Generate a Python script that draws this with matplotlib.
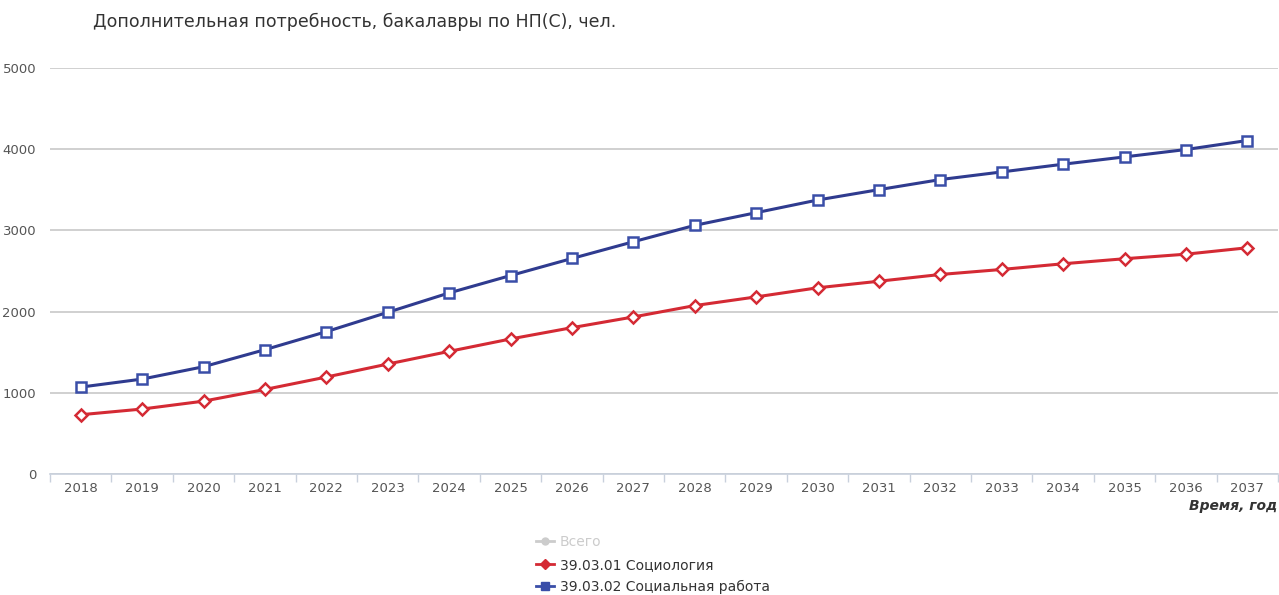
import matplotlib
matplotlib.use("Agg")
import matplotlib.pyplot as plt
from matplotlib.lines import Line2D
import numpy as np

years = [str(y) for y in range(2018, 2038)]
sociology = [730, 800, 897, 1041, 1194, 1354, 1510, 1663, 1802, 1934,
             2074, 2181, 2293, 2374, 2457, 2519, 2589, 2651, 2707, 2786]
social_work = [1070, 1169, 1321, 1531, 1753, 1991, 2230, 2444, 2654, 2860,
               3062, 3218, 3374, 3502, 3626, 3720, 3815, 3905, 3996, 4107]
y_ticks = [0, 1000, 2000, 3000, 4000, 5000]

title = "Дополнительная потребность, бакалавры по НП(С), чел."
x_title = "Время, год"
legend_labels = ["Всего", "39.03.01 Социология", "39.03.02 Социальная работа"]

plt.rcParams['font.family'] = ['DejaVu Sans']

fig = plt.figure(figsize=(12.79, 5.95), dpi=100)
ax = fig.add_axes([50/1279, 1-474/595, 1228/1279, (474-68)/595])

x = np.arange(len(years))
red = '#d42a34'
blue = '#2f3b8f'
blue_m = '#3a4ea8'

ax.plot(x, sociology, color=red, lw=2.2, marker='D', ms=6, mfc='white',
        mec=red, mew=1.8, zorder=3)
ax.plot(x, social_work, color=blue, lw=2.2, marker='s', ms=7.5, mfc='white',
        mec=blue_m, mew=1.8, zorder=3)

ax.set_xlim(-0.5, len(years) - 0.5)
ax.set_ylim(0, 5000)
ax.set_yticks(y_ticks)
ax.set_yticklabels([str(v) for v in y_ticks])
ax.set_xticks(x)
ax.set_xticklabels(years)
ax.set_xticks(np.arange(-0.5, len(years), 1.0), minor=True)
ax.tick_params(axis='x', which='major', length=0, pad=6, labelsize=9.5, labelcolor='#555555')
ax.tick_params(axis='x', which='minor', length=6, color='#c8d0dc', width=1)
ax.tick_params(axis='y', length=0, pad=10, labelsize=9.5, labelcolor='#555555')

ax.grid(axis='y', color='#c4c4c4', lw=1.1)
ax.set_axisbelow(True)
for s in ['top', 'right', 'left']:
    ax.spines[s].set_visible(False)
ax.spines['bottom'].set_color('#c8d0dc')
ax.spines['bottom'].set_linewidth(1.2)

fig.text(93/1279, 1-22/595, title, fontsize=12.5, color='#333333', va='center', ha='left')
fig.text(1277/1279, 1-506/595, x_title, fontsize=10, color='#333333', va='center', ha='right',
         fontweight='bold', fontstyle='italic')

handles = [
    Line2D([], [], color='#cccccc', lw=2, marker='o', ms=5, mfc='#cccccc', mec='#cccccc'),
    Line2D([], [], color=red, lw=2, marker='D', ms=5, mfc=red, mec=red),
    Line2D([], [], color=blue_m, lw=2, marker='s', ms=5.5, mfc=blue_m, mec=blue_m),
]
leg = fig.legend(handles, legend_labels, loc='upper left', bbox_to_anchor=(536/1279, 1-535/595),
                 frameon=False, fontsize=10, handlelength=1.3, handletextpad=0.4,
                 labelspacing=0.62, borderpad=0, borderaxespad=0)
texts = leg.get_texts()
texts[0].set_color('#cccccc')
for t in texts[1:]:
    t.set_color('#333333')

fig.savefig('out.png', dpi=100, facecolor='white')
